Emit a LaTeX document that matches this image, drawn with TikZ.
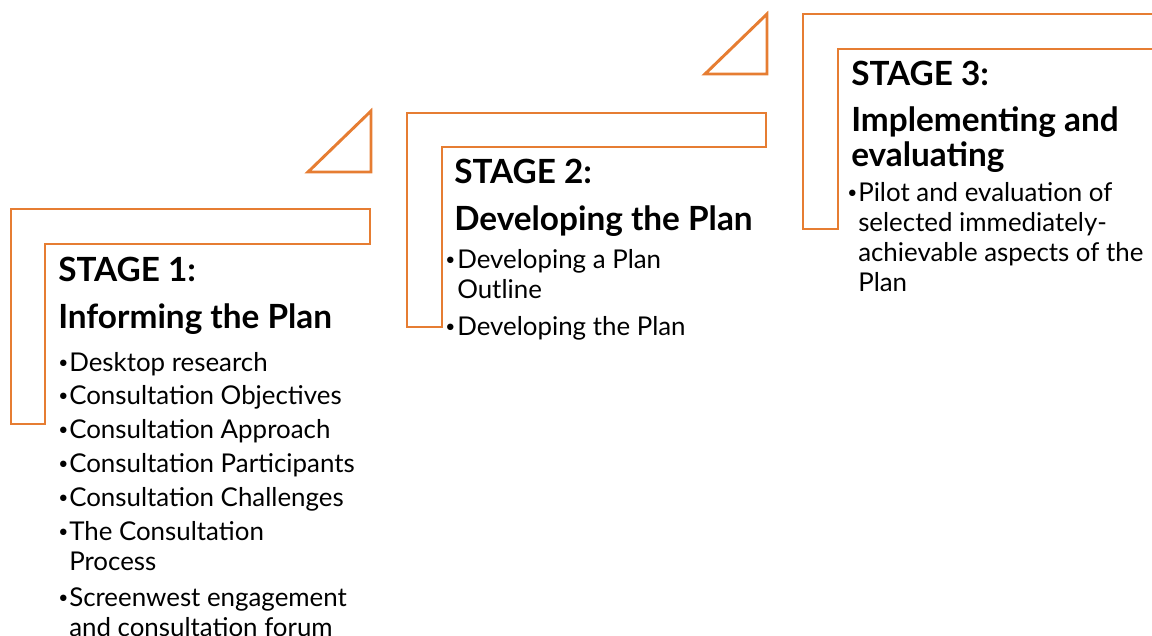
\documentclass[tikz,border=0pt]{standalone}
\usepackage{fontspec}
\setmainfont{Lato}
\definecolor{stageorange}{RGB}{230,125,50}
\tikzset{
	stageline/.style={draw=stageorange, line width=2.2pt, line join=miter},
	headtext/.style={anchor=base west, inner sep=0pt, font=\fontsize{25}{23.8}\selectfont\bfseries},
	itemtext/.style={anchor=base west, inner sep=0pt, font=\fontsize{19.4}{22.5}\selectfont},
	dottext/.style={anchor=base west, inner sep=0pt, font=\fontsize{13}{13}\selectfont},
}
% first line of a text sits on the given baseline
\def\toplines#1{\begin{tabular}[t]{@{}l@{}}#1\end{tabular}}
% bullet item: name, x of bullet, x of text, baseline, text
\def\stageitem(#1)(#2,#3,#4)#5{\node[dottext] (#1-dot) at (#2, #4) {\raisebox{2.2pt}{\textbullet}};
	\node[itemtext] (#1) at (#3, #4) {\toplines{#5}};}

\begin{document}
\begin{tikzpicture}[x=0.75pt, y=-0.75pt]
			%%%%% FRAME %%%%%
			\clip (0, 0) rectangle (1152, 635);
			
			%%%%% STAGE 1 %%%%%
			\draw[stageline] (11, 209) -- (370, 209) -- (370, 244) -- (45, 244) -- (45, 424) -- (11, 424) -- cycle;
			\draw[stageline] (308, 172) -- (371, 111) -- (371, 172) -- cycle;
			
			\node[headtext] (s1-title) at (58, 281) {STAGE 1:};
			\node[headtext] (s1-name) at (58, 328) {Informing the Plan};
			\stageitem(s1-a)(58, 69, 371){Desktop research}
			\stageitem(s1-b)(58, 69, 404){Consultation Objectives}
			\stageitem(s1-c)(58, 69, 438.5){Consultation Approach}
			\stageitem(s1-d)(58, 69, 472.5){Consultation Participants}
			\stageitem(s1-e)(58, 69, 506.5){Consultation Challenges}
			\stageitem(s1-f)(58, 69, 540.5){The Consultation\\Process}
			\stageitem(s1-g)(58, 69, 606.5){Screenwest engagement\\and consultation forum}
			
			%%%%% STAGE 2 %%%%%
			\draw[stageline] (407, 113) -- (766, 113) -- (766, 147) -- (442, 147) -- (442, 327) -- (407, 327) -- cycle;
			\draw[stageline] (705, 74) -- (767, 14) -- (767, 74) -- cycle;
			
			\node[headtext] (s2-title) at (454, 183.5) {STAGE 2:};
			\node[headtext] (s2-name) at (454, 230) {Developing the Plan};
			\stageitem(s2-a)(445, 457, 268){Developing a Plan\\Outline}
			\stageitem(s2-b)(445, 457, 335){Developing the Plan}
			
			%%%%% STAGE 3 %%%%%
			\draw[stageline] (803, 14) -- (1165, 14) -- (1165, 49) -- (838, 49) -- (838, 229) -- (803, 229) -- cycle;
			
			\node[headtext] (s3-title) at (851, 85) {STAGE 3:};
			\node[headtext] (s3-name) at (851, 131.7) {\toplines{Implementing and\\evaluating}};
			\stageitem(s3-a)(847, 858, 201.7){Pilot and evaluation of\\selected immediately-\\achievable aspects of the\\Plan}
			
\end{tikzpicture}
\end{document}
